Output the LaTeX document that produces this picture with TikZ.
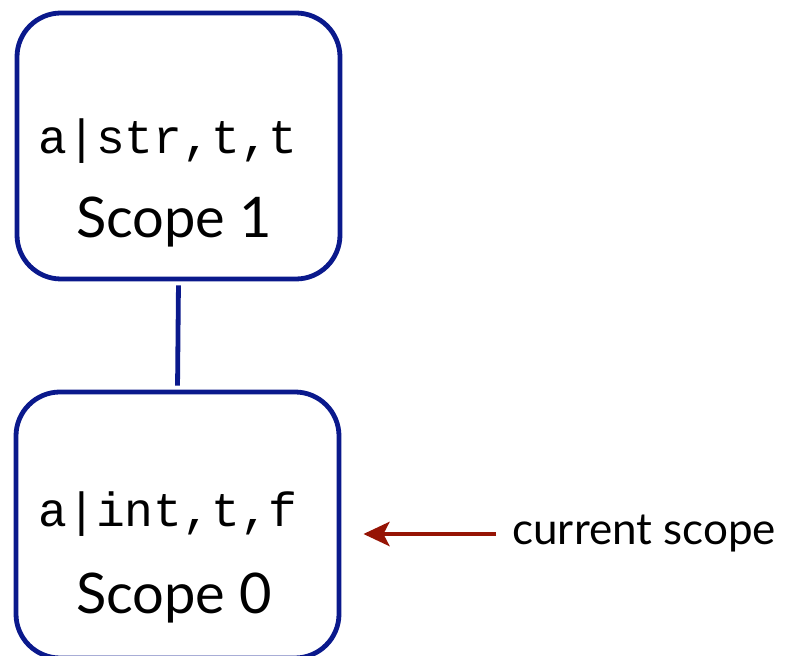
\documentclass[tikz,border=0pt]{standalone}
\usepackage{fontspec}
\setmainfont{Lato}
\setmonofont{Liberation Mono}
\usepackage{tikz}
\usetikzlibrary{arrows.meta, positioning, calc}
\definecolor{scopeblue}{RGB}{10,25,140}
\definecolor{arrred}{RGB}{150,20,5}
\tikzset{
  scopebox/.style={draw=scopeblue, fill=white, rounded corners=22pt,
                   minimum width=161.5pt, minimum height=133pt, line width=2.4pt},
  entry/.style={font=\fontsize{24}{28}\selectfont\ttfamily, inner sep=0pt, anchor=base west},
  scopelbl/.style={font=\fontsize{28}{32}\selectfont, inner sep=0pt, anchor=base},
  link/.style={draw=scopeblue, line width=2.4pt},
  curarr/.style={-{Stealth[length=13pt, width=12pt, inset=3pt]}, arrred, line width=2.4pt},
}

\begin{document}
\begin{tikzpicture}[x=0.5pt, y=-0.5pt]
  \useasboundingbox (0,0) rectangle (787,656);

  % scope boxes
  \node[scopebox] (scope1) at (178.5,146) {};
  \node[scopebox] (scope0) at (177.5,525) {};

  % scope contents
  \node[entry] (e1) at (38,154) {a|str,t,t};
  \node[scopelbl] (s1) at (174,238) {Scope 1};
  \node[entry] (e0) at (38,527) {a|int,t,f};
  \node[scopelbl] (s0) at (174,614) {Scope 0};

  % parent link
  \draw[link, shorten <=2pt, shorten >=2pt] (scope1.south) -- (scope0.north);

  % current scope marker
  \node[font=\fontsize{22}{26}\selectfont, inner sep=0pt, anchor=base west] (cur) at (512,545) {current scope};
  \draw[curarr, shorten <=8pt, shorten >=11pt] (cur.west) -- (cur.west -| scope0.east);
\end{tikzpicture}
\end{document}
